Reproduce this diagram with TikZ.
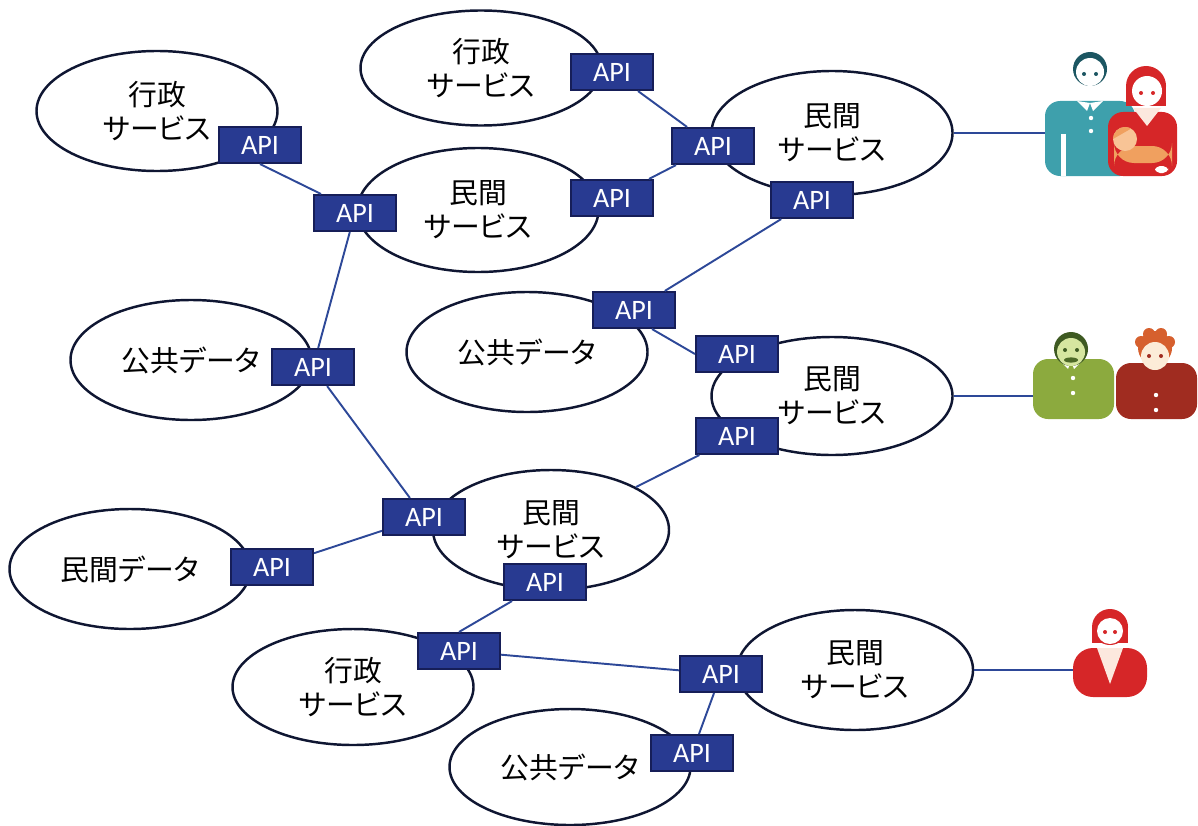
\documentclass[tikz,border=0pt]{standalone}
\usepackage{fontspec}
\setmainfont{Noto Sans CJK JP}[RawFeature=+palt]
\newfontfamily\apifont{Carlito}
\usepackage{xcolor}
\definecolor{apiblue}{RGB}{40,58,145}
\definecolor{apiedge}{RGB}{22,30,88}
\definecolor{linkblue}{RGB}{45,72,152}
\definecolor{rim}{RGB}{15,22,50}
\definecolor{famteal}{RGB}{62,160,172}
\definecolor{famdark}{RGB}{28,86,98}
\definecolor{momred}{RGB}{214,38,40}
\definecolor{momskin}{RGB}{252,232,222}
\definecolor{babyskin}{RGB}{248,196,150}
\definecolor{babywrap}{RGB}{240,160,95}
\definecolor{oldgreen}{RGB}{140,170,62}
\definecolor{olddark}{RGB}{62,90,34}
\definecolor{oldface}{RGB}{214,230,160}
\definecolor{oldbrick}{RGB}{160,44,32}
\definecolor{oldhair}{RGB}{214,96,46}
\definecolor{oldskin}{RGB}{252,236,216}
\usetikzlibrary{shapes.geometric}

\begin{document}
\begin{tikzpicture}[x=0.1mm, y=-0.1mm,
  svc/.style={ellipse, draw=rim, line width=0.7pt, fill=white, inner sep=0pt,
              minimum width=24.1mm, minimum height=12mm, align=center,
              font=\fontsize{8.2}{9.6}\selectfont},
  api/.style={rectangle, draw=apiedge, fill=apiblue, line width=0.6pt,
              minimum width=8.2mm, minimum height=3.6mm, inner sep=0pt,
              text=white, font=\apifont\fontsize{8}{9}\selectfont},
  link/.style={draw=linkblue, line width=0.55pt}
]
\useasboundingbox (0,0) rectangle (1198,825);

% Services and data sources
\node[svc] (gov1) at (157,111) {行政\\サービス};
\node[svc, minimum height=11.5mm] (gov2) at (481,68) {行政\\サービス};
\node[svc, minimum height=12.4mm] (priv1) at (478,210) {民間\\サービス};
\node[svc, minimum height=12.4mm] (priv2) at (832,133) {民間\\サービス};
\node[svc] (pub1) at (191,360) {公共データ};
\node[svc] (pub2) at (527,352) {公共データ};
\node[svc, minimum height=11.8mm] (priv3) at (832,396) {民間\\サービス};
\node[svc, minimum width=23.6mm] (priv4) at (551,530) {民間\\サービス};
\node[svc] (pdata) at (130,569) {民間データ};
\node[svc, minimum height=11.6mm] (gov3) at (353,687) {行政\\サービス};
\node[svc, minimum width=23.6mm] (priv5) at (855,670) {民間\\サービス};
\node[svc, minimum height=11.6mm] (pub3) at (570,767) {公共データ};

% API gateways
\node[api] (api1)  at (260,145) {API};
\node[api] (api2)  at (355,213) {API};
\node[api] (api3)  at (612,72)  {API};
\node[api] (api4)  at (713,146) {API};
\node[api] (api5)  at (612,198) {API};
\node[api] (api6)  at (812,200) {API};
\node[api] (api7)  at (634,310) {API};
\node[api] (api8)  at (313,367) {API};
\node[api] (api9)  at (737,354) {API};
\node[api] (api10) at (737,436) {API};
\node[api] (api11) at (424,517) {API};
\node[api] (api12) at (272,567) {API};
\node[api] (api13) at (545,582) {API};
\node[api] (api14) at (459,651) {API};
\node[api] (api15) at (721,674) {API};
\node[api] (api16) at (692,753) {API};

% Links between gateways
\draw[link] (api1.south) -- ([xshift=0.8mm]api2.north west);
\draw[link] (api2) -- (api8);
\draw[link] (api3) -- (api4);
\draw[link] (api5) -- (api4);
\draw[link] (api6) -- (api7);
\draw[link] ([xshift=1.8mm]api7.south) -- (api9.west);
\draw[link] (api8) -- (api11);
\draw[link] (api10) -- (priv4);
\draw[link] (api12) -- (api11);
\draw[link] ([xshift=-3.3mm]api13.south) -- (api14.north);
\draw[link] (api14) -- (api15);
\draw[link] (api15) -- (api16);

% Users
\coordinate (family) at (1046,133);
\coordinate (elders) at (1034,396);
\coordinate (worker) at (1074,670);
\draw[link] (priv2.east) -- (family);
\draw[link] (priv3.east) -- (elders);
\draw[link] (priv5.east) -- (worker);

% family: father
\fill[famteal, rounded corners=1.5mm] (1045,101) rectangle (1135,176);
\fill[white] (1077,101) -- (1087,111) -- (1090,103) -- cycle;
\fill[white] (1103,101) -- (1093,111) -- (1090,103) -- cycle;
\fill[white] (1091,118) circle (2.2) (1091,131) circle (2.2);
\draw[white, line width=0.5mm] (1063,134) -- (1063,176);
\fill[famdark] (1090,69) circle (17);
\fill[white] (1090,72) circle (14);
\fill[famdark] (1084,74) circle (2) (1096,74) circle (2);

% family: mother with baby
\fill[momred] (1146,86) circle (20);
\fill[momred] (1126,86) rectangle (1166,106);
\fill[momred, rounded corners=1.5mm] (1108,112) rectangle (1177,176);
\fill[momskin] (1133,108) -- (1161,108) -- (1147,126) -- cycle;
\fill[white] (1147,91) circle (15);
\fill[momred] (1141,93) circle (2) (1153,93) circle (2);
\fill[babywrap, rounded corners=2mm] (1114,146) rectangle (1172,163);
\fill[babyskin] (1125,139) circle (12);
\fill[babywrap] (1125,139) ++(-12,0) arc[start angle=180, end angle=300, radius=12] -- cycle;
\fill[white, rounded corners=0.5mm] (1155,166) rectangle (1168,173);

% elderly couple: husband
\fill[oldgreen, rounded corners=1.5mm] (1033,359) rectangle (1114,419);
\fill[white] (1058,359) -- (1068,369) -- (1071,361) -- cycle;
\fill[white] (1084,359) -- (1074,369) -- (1071,361) -- cycle;
\fill[white] (1073,378) circle (2.2) (1073,393) circle (2.2);
\fill[olddark] (1071,349) circle (17);
\fill[oldface] (1071,352) circle (14);
\fill[olddark] (1065,350) circle (2) (1077,350) circle (2);
\fill[olddark!80!oldgreen] (1071,360) ellipse (7 and 2.6);

% elderly couple: wife
\fill[oldbrick, rounded corners=1.5mm] (1116,363) rectangle (1197,419);
\fill[white] (1156,395) circle (2.2) (1156,410) circle (2.2);
\fill[oldhair] (1155,348) circle (17);
\fill[oldhair] (1141,342) circle (6) (1149,334) circle (6)
               (1161,334) circle (6) (1169,342) circle (6);
\fill[oldskin] (1155,356) circle (14);
\fill[oldbrick] (1149,356) circle (2) (1161,356) circle (2);

% office worker
\fill[momred] (1110,627) circle (18);
\fill[momred] (1092,627) rectangle (1128,643);
\fill[momred, rounded corners=2mm] (1073,648) rectangle (1147,697);
\fill[momskin] (1097,648) -- (1123,648) -- (1110,684) -- cycle;
\fill[white] (1110,631) circle (13);
\fill[momred] (1105,632) circle (2) (1115,632) circle (2);

\end{tikzpicture}
\end{document}
